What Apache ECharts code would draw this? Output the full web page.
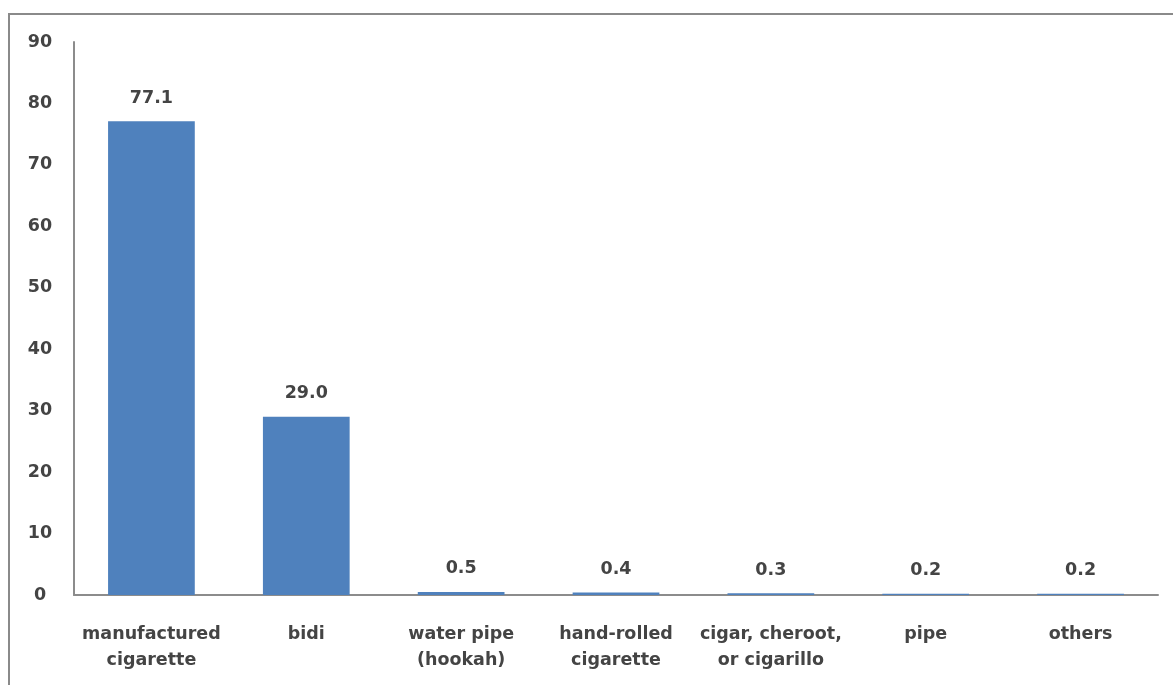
<!DOCTYPE html>
<html><head><meta charset="utf-8">
<script src="https://cdn.jsdelivr.net/npm/echarts@6/dist/echarts.min.js"></script>
<style>html,body{margin:0;padding:0;background:#fff}#c{width:1173px;height:685px}</style>
</head><body><div id="c"></div>
<script>
const categories = ['manufactured\ncigarette','bidi','water pipe\n(hookah)','hand-rolled\ncigarette','cigar, cheroot,\nor cigarillo','pipe','others'];
const values = [77.1, 29.0, 0.5, 0.4, 0.3, 0.2, 0.2];
const yTicks = [0, 10, 20, 30, 40, 50, 60, 70, 80, 90];

const chart = echarts.init(document.getElementById('c'), null, {renderer:'canvas'});
const font = '"DejaVu Sans", sans-serif';
const txt = {color:'#444444', fontSize:17.5, fontFamily:font, fontWeight:'bold'};
chart.setOption({
  animation: false,
  graphic: [{type:'rect', shape:{x:9, y:14, width:1200, height:700}, style:{fill:'none', stroke:'#8a8a8a', lineWidth:2}, z:-1}],
  grid: {left:74, right:15, top:42, bottom:90, containLabel:false},
  xAxis: {
    type:'category', data:categories,
    axisLine:{show:true, lineStyle:{color:'#8c8c8c', width:2}},
    axisTick:{show:false},
    axisLabel:Object.assign({margin:26, lineHeight:26, interval:0}, txt)
  },
  yAxis: {
    type:'value', min:yTicks[0], max:yTicks[yTicks.length-1], interval:10,
    axisLine:{show:true, lineStyle:{color:'#8c8c8c', width:2}},
    axisTick:{show:false},
    splitLine:{show:false},
    axisLabel:Object.assign({margin:34, align:'center'}, txt)
  },
  series: [{
    type:'bar', data:values, barWidth:'56%',
    itemStyle:{color:'#4f81bd'},
    label:Object.assign({show:true, position:'top', distance:14,
      formatter: p => p.value.toFixed(1)}, txt)
  }]
});
</script></body></html>
